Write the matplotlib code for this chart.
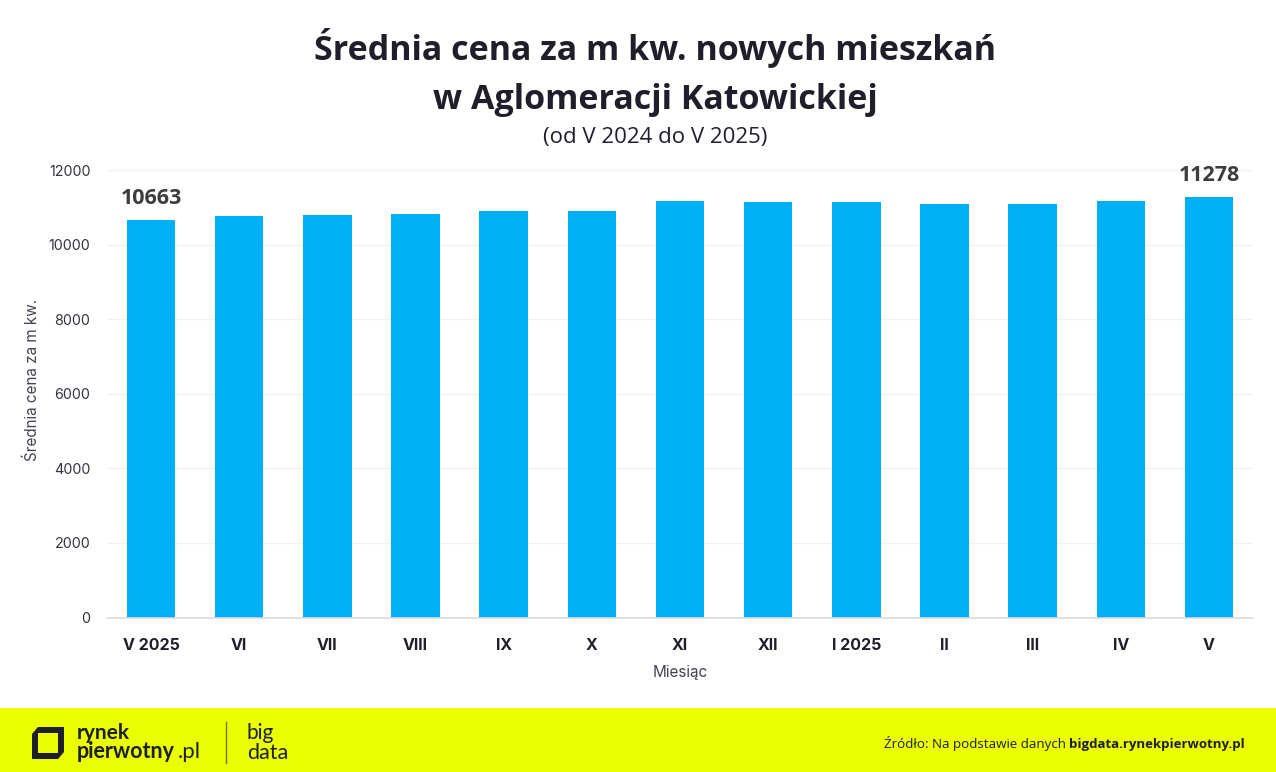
import matplotlib
matplotlib.use("Agg")
import matplotlib.pyplot as plt
from matplotlib.patches import Rectangle, Polygon

months = ["V 2025", "VI", "VII", "VIII", "IX", "X", "XI", "XII", "I 2025", "II", "III", "IV", "V"]
prices = [10663, 10770, 10785, 10825, 10910, 10895, 11170, 11150, 11130, 11090, 11075, 11170, 11278]
labelled = {0: "10663", 12: "11278"}
yticks = [0, 2000, 4000, 6000, 8000, 10000, 12000]

W, H = 1276, 772
DARK = "#1f1f2b"
fig = plt.figure(figsize=(W / 100, H / 100), dpi=100, facecolor="white")
plt.rcParams["font.family"] = ["Inter", "DejaVu Sans"]

ax = fig.add_axes([107 / W, 1 - 617.5 / H, (1253 - 107) / W, (617.5 - 170) / H])
ax.bar(range(len(months)), prices, width=0.55, color="#00b0f4", zorder=3)
ax.set_xlim(-0.5, len(months) - 0.5)
ax.set_ylim(0, 12000)
ax.set_yticks(yticks)
ax.set_xticks(range(len(months)))
ax.set_xticklabels(months, fontsize=11.5, fontweight="bold", color=DARK)
ax.tick_params(axis="x", length=0, pad=15)
ax.tick_params(axis="y", length=0, pad=12, labelsize=10.3, labelcolor="#333340")
ax.grid(axis="y", color="#f2f2f2", lw=1, zorder=0)
for s in ("top", "right", "left"):
    ax.spines[s].set_visible(False)
ax.spines["bottom"].set_color("#dcdce0")
ax.spines["bottom"].set_linewidth(1.2)
ax.spines["bottom"].set_zorder(4)

for i, text in labelled.items():
    ax.annotate(text, (i, prices[i]), xytext=(0, 8), textcoords="offset points",
                ha="center", va="bottom", fontsize=15.5, fontweight="bold",
                family="Open Sans", color="#3c3c3c", zorder=5)

fig.text(32 / W, 1 - 380 / H, "Średnia cena za m kw.", rotation=90, ha="center", va="center",
         fontsize=11, color="#444450", family="Inter")
fig.text(680 / W, 1 - 673 / H, "Miesiąc", ha="center", va="center",
         fontsize=11, color="#444450", family="Inter")

fig.text(655 / W, 1 - 48 / H, "Średnia cena za m kw. nowych mieszkań", ha="center", va="center",
         fontsize=24.5, fontweight="bold", color=DARK, family="Open Sans")
fig.text(655 / W, 1 - 100 / H, "w Aglomeracji Katowickiej", ha="center", va="center",
         fontsize=24.5, fontweight="bold", color=DARK, family="Open Sans")
fig.text(655 / W, 1 - 138 / H, "(od V 2024 do V 2025)", ha="center", va="center",
         fontsize=16, color=DARK, family="Open Sans")

# footer band and logo
bg = fig.add_axes([0, 0, 1, 1], zorder=-1)
bg.set_xlim(0, W)
bg.set_ylim(H, 0)
bg.axis("off")
bg.add_patch(Rectangle((0, 708), W, 64, color="#eaff00", lw=0))
bg.add_patch(Polygon([(38, 727), (64, 727), (64, 752), (58, 759), (32, 759), (32, 734)],
                     closed=True, fc=DARK, ec="none"))
bg.add_patch(Polygon([(38, 733), (58, 733), (58, 753), (38, 753)],
                     closed=True, fc="#eaff00", ec="none"))
bg.plot([226, 226], [722, 763], color="#6f7510", lw=1)
bg.text(77, 739, "rynek", fontsize=15, fontweight="bold", color=DARK, va="baseline", ha="left", family="Lato")
bg.text(77, 758, "pierwotny", fontsize=15.5, fontweight="bold", color=DARK, va="baseline", ha="left", family="Lato")
bg.text(178, 758, ".pl", fontsize=16, color=DARK, va="baseline", ha="left", family="Lato")
bg.text(247, 739, "big", fontsize=15, color=DARK, va="baseline", ha="left", family="Lato")
bg.text(247, 759, "data", fontsize=15.5, color=DARK, va="baseline", ha="left", family="Lato")
bg.text(1245, 748, "bigdata.rynekpierwotny.pl", fontsize=9.5, fontweight="bold", color=DARK,
        va="baseline", ha="right", family="Open Sans")
bg.text(1066, 748, "Źródło: Na podstawie danych", fontsize=9.6, color=DARK,
        va="baseline", ha="right", family="Open Sans")

fig.savefig("out.png", dpi=100, facecolor="white")
